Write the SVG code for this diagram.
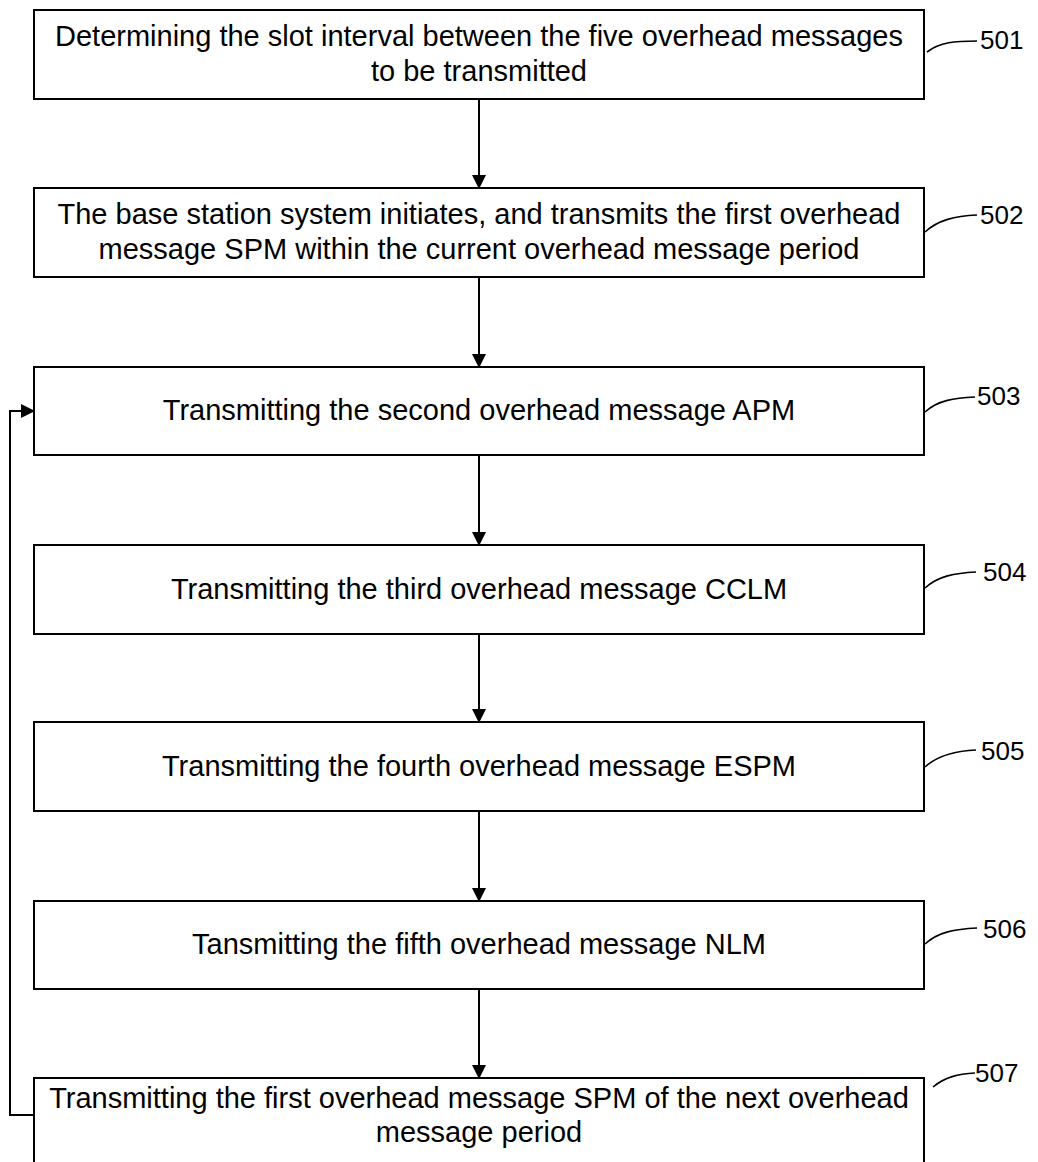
<svg xmlns="http://www.w3.org/2000/svg" width="1038" height="1162" viewBox="0 0 1038 1162">
<style>
.box{fill:#fff;stroke:#000;stroke-width:2}
.t{font-family:"Liberation Sans",Arial,sans-serif;font-size:29px;fill:#000;text-anchor:middle}
.lbl{font-family:"Liberation Sans",Arial,sans-serif;font-size:26px;fill:#000}
.ln{fill:none;stroke:#000;stroke-width:2}
.ld{fill:none;stroke:#000;stroke-width:1.6}
</style>
<defs>
<marker id="ah" markerWidth="14" markerHeight="14" refX="13" refY="7" orient="auto" markerUnits="userSpaceOnUse">
<path d="M0,0 L14,7 L0,14 Z" fill="#000"/>
</marker>
</defs>
<rect width="1038" height="1162" fill="#fff"/>
<g id="connectors">
<line class="ln" x1="479" y1="99" x2="479" y2="188" marker-end="url(#ah)"/>
<line class="ln" x1="479" y1="277" x2="479" y2="367" marker-end="url(#ah)"/>
<line class="ln" x1="479" y1="455" x2="479" y2="545" marker-end="url(#ah)"/>
<line class="ln" x1="479" y1="634" x2="479" y2="722" marker-end="url(#ah)"/>
<line class="ln" x1="479" y1="811" x2="479" y2="901" marker-end="url(#ah)"/>
<line class="ln" x1="479" y1="989" x2="479" y2="1078" marker-end="url(#ah)"/>
<polyline class="ln" points="34,1115 10,1115 10,411 34,411" marker-end="url(#ah)"/>
</g>
<g id="n501">
<rect class="box" x="34" y="10" width="890" height="89"/>
<text class="t" x="479" y="46">Determining the slot interval between the five overhead messages</text>
<text class="t" x="479" y="81">to be transmitted</text>
<path class="ld" d="M927,52 C940,42 955,41 977,41"/>
<text class="lbl" x="980" y="49">501</text>
</g>
<g id="n502">
<rect class="box" x="34" y="188" width="890" height="89"/>
<text class="t" x="479" y="224">The base station system initiates, and transmits the first overhead</text>
<text class="t" x="479" y="259">message SPM within the current overhead message period</text>
<path class="ld" d="M925,232 C938,220 955,216 977,215"/>
<text class="lbl" x="980" y="224">502</text>
</g>
<g id="n503">
<rect class="box" x="34" y="367" width="890" height="88"/>
<text class="t" x="479" y="420">Transmitting the second overhead message APM</text>
<path class="ld" d="M925,412 C938,400 955,398 975,397"/>
<text class="lbl" x="977" y="405">503</text>
</g>
<g id="n504">
<rect class="box" x="34" y="545" width="890" height="89"/>
<text class="t" x="479" y="599">Transmitting the third overhead message CCLM</text>
<path class="ld" d="M925,588 C938,576 955,573 976,572"/>
<text class="lbl" x="983" y="581">504</text>
</g>
<g id="n505">
<rect class="box" x="34" y="722" width="890" height="89"/>
<text class="t" x="479" y="776">Transmitting the fourth overhead message ESPM</text>
<path class="ld" d="M925,767 C938,755 955,751 976,750"/>
<text class="lbl" x="981" y="760">505</text>
</g>
<g id="n506">
<rect class="box" x="34" y="901" width="890" height="88"/>
<text class="t" x="479" y="954">Tansmitting the fifth overhead message NLM</text>
<path class="ld" d="M925,944 C938,932 955,929 977,928"/>
<text class="lbl" x="983" y="938">506</text>
</g>
<g id="n507">
<rect class="box" x="34" y="1078" width="890" height="100"/>
<text class="t" x="479" y="1108">Transmitting the first overhead message SPM of the next overhead</text>
<text class="t" x="479" y="1142">message period</text>
<path class="ld" d="M933,1087 C945,1077 958,1074 975,1073"/>
<text class="lbl" x="975" y="1082">507</text>
</g>
</svg>
